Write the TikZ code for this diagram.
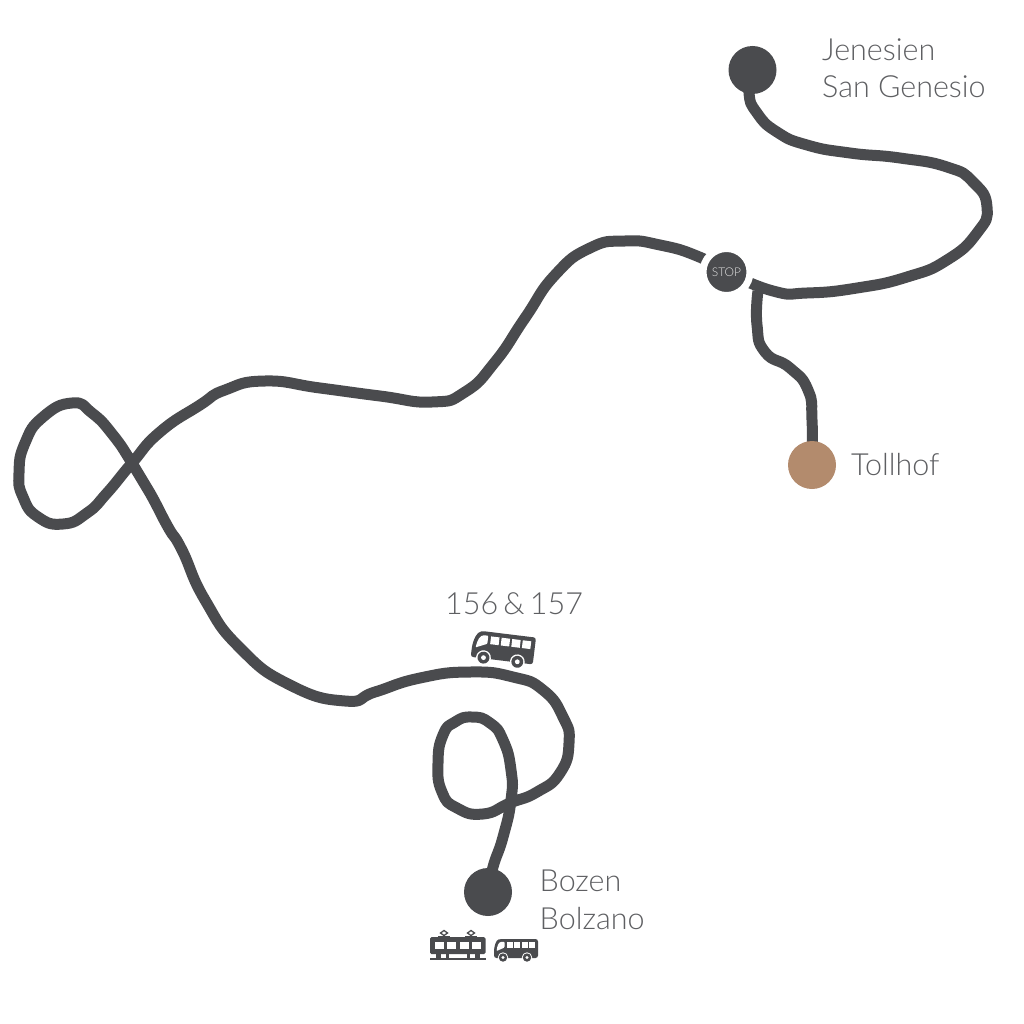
\documentclass[tikz,border=0pt]{standalone}
\usepackage{fontspec}
\setmainfont{Lato Light}
\usetikzlibrary{backgrounds}
\definecolor{road}{HTML}{4A4B4E}
\definecolor{labelc}{HTML}{5E5F62}
\definecolor{tan}{HTML}{B38B6D}
\tikzset{
  roadline/.style={draw=road,line width=11pt,line cap=butt,line join=round},
  endpoint/.style={circle,fill=road,minimum size=48pt,inner sep=0pt,outer sep=0pt},
  tanpoint/.style={endpoint,fill=tan},
  stopnode/.style={circle,fill=road,draw=white,line width=7pt,minimum size=47pt,inner sep=0pt,text=white!85!road,font=\fontsize{12}{12}\selectfont},
  placelabel/.style={anchor=base west,text=labelc,inner sep=0pt,align=left,font=\fontsize{30.5}{37.5}\selectfont},
  pics/busicon/.style={code={
    \fill[road,rounded corners=2.5pt] (0,19) -- (0,12) .. controls (0.5,7) and (2,1) .. (7,0) -- (44,0) -- (44,19) -- cycle;
    \fill[white,rounded corners=0.8pt] (2.6,12) .. controls (3.2,7) and (4.5,3) .. (8,2.8) -- (10.5,2.8) -- (10.5,8.5) -- cycle;
    \foreach \wx in {12.5,20,27.5,35}
      \fill[white] (\wx,3) rectangle +(6,5.5);
    \fill[white] (9,18.5) circle (5.2);
    \fill[white] (33,18.5) circle (5.2);
    \fill[road] (9,18.5) circle (4.2);
    \fill[road] (33,18.5) circle (4.2);
    \fill[white] (9,18.5) circle (1.7);
    \fill[white] (33,18.5) circle (1.7);
  }},
  pics/tramicon/.style={code={
    \fill[road,rounded corners=1.5pt] (0,7) rectangle (55.5,24);
    \foreach \wx in {4.5,17,29.5,42}
      \fill[white] (\wx,11.5) rectangle +(9,7.5);
    \fill[road] (0,28) rectangle (55.5,30);
    \fill[road] (6,24) rectangle (11,28.5);
    \fill[road] (16,24) rectangle (19,28.5);
    \fill[road] (37,24) rectangle (40,28.5);
    \fill[road] (45,24) rectangle (50,28.5);
    \foreach \wx in {14,41}{
      \draw[road,line width=1.3pt] (\wx,5.5) -- (\wx-3.5,3) -- (\wx,0.5) -- (\wx+3.5,3) -- cycle;
      \fill[road] (\wx-6,5.5) rectangle (\wx+6,7.5);
    }
  }}
}
\begin{document}
\begin{tikzpicture}[x=1pt,y=-1pt]
\useasboundingbox (0,0) rectangle (1024,1024);
\node[endpoint] (jen) at (752.5,70) {};
\node[endpoint] (boz) at (488,892) {};
\node[tanpoint] (toll) at (812,465) {};
\node[stopnode] (stop) at (726.5,272) {STOP};
\coordinate (fork) at (758,291);
\begin{scope}[on background layer]
\draw[roadline] plot[smooth,tension=.9] coordinates {(jen.center) (749,93) (757,113) (777,132) (807,145) (850,153) (900,158) (947,167) (973,182) (987,207) (977,233) (947,260) (907,277) (857,288) (807,293) (773,291) (stop.center)};
\draw[roadline] plot[smooth,tension=.9] coordinates {(stop.center) (697,256) (660,245) (625,241) (590,248) (555,275) (525,318) (495,362) (465,392) (432,402) (380,396) (320,388) (265,381) (225,390) (200,405) (160,432) (132,463) (107,493) (87,513) (63,524) (38,517) (23,497) (19,473) (25,443) (43,417) (72,403) (92,413) (113,435) (132,463) (150,493) (168,527) (182,550) (205,600) (240,648) (290,685) (345,701) (375,692) (420,678) (470,672) (513,677) (543,690) (563,717) (569,743) (560,773) (537,792) (510,803) (483,814) (457,808) (442,792) (438,763) (443,735) (455,722) (472,717) (490,723) (503,740) (511,770) (511,800) (503,837) (493,867) (boz.center)};
\draw[roadline] plot[smooth,tension=.9] coordinates {(fork) (757,325) (765,352) (790,368) (808,390) (812,420) (toll.center)};
\end{scope}
\node[placelabel] (jenl) at (822,98) {Jenesien\\San Genesio};
\node[placelabel] (tolll) at (851,475) {Tollhof};
\node[placelabel] (bozl) at (539.5,929) {Bozen\\Bolzano};
\node[placelabel] (busl) at (445,614) {\spaceskip=0.17em 156 \& 157};
\pic[rotate=-7,scale=1.42] at (474,630) {busicon};
\pic at (494,939) {busicon};
\pic at (430,930) {tramicon};
\end{tikzpicture}
\end{document}
